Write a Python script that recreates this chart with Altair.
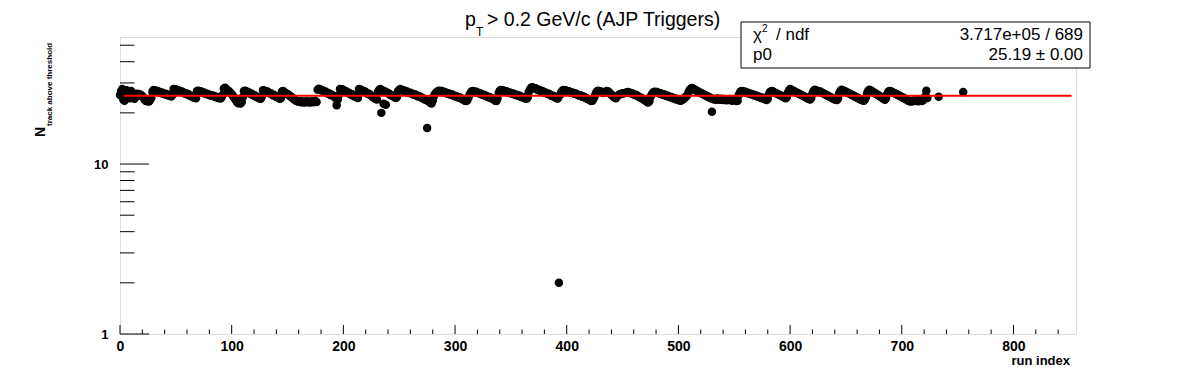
import altair as alt
import pandas as pd

# ---------------- data ----------------
# N_track above threshold per run, consecutive run indices starting at 0
runs_000_047 = [25.5, 26.8, 27.6, 24.0, 23.6, 26.2, 27.2, 25.8, 25.0, 24.4, 26.9, 25.9, 24.8, 24.2,
                25.6, 25.9, 25.4, 25.8, 25.2, 25.5, 25.0, 24.6,
                24.0, 23.6, 23.4, 23.7, 23.3, 23.9, 24.5, 26.6,
                27.3, 27.0, 27.1, 26.7, 26.8, 26.4, 26.5, 26.1, 26.3, 25.9, 25.7, 25.9, 25.5, 25.6, 25.2, 25.3, 25.0, 25.6]
runs_048_110 = [27.6, 27.4, 27.5, 27.1, 27.2, 26.8, 26.9, 26.5, 26.6, 26.2, 26.0, 26.1, 25.7, 25.8, 25.4, 25.1, 25.2, 24.8, 24.6, 24.8, 24.4,
                26.9, 27.0, 26.7, 26.8, 26.4, 26.5, 26.1, 26.2, 25.9, 25.7, 25.8, 25.5, 25.3, 25.4, 25.1, 25.2, 24.9, 24.7, 24.8, 24.5, 24.6, 24.3, 24.7, 25.6,
                27.8, 28.1, 27.7, 27.3, 27.0, 26.6, 26.2, 25.7, 25.2, 24.7, 24.2, 23.6, 23.1, 22.8, 23.0, 22.7, 23.2, 24.8]
runs_111_176 = [26.9, 27.0, 26.7, 26.4, 26.5, 26.1, 25.8, 25.9, 25.5, 25.2, 25.3, 24.9, 24.6, 24.7, 24.3, 24.2, 24.9,
                27.2, 27.0, 26.9, 26.6, 26.7, 26.3, 26.0, 26.1, 25.7, 25.4, 25.5, 25.1, 24.8, 24.9, 24.5, 24.2, 24.4,
                26.7, 26.9, 26.5, 26.2, 26.0, 25.7, 25.5, 25.2, 24.9, 24.6, 24.3, 24.0, 23.8, 23.5, 23.4,
                23.3, 23.2, 23.4, 23.1, 23.3, 23.0, 23.2, 23.4, 23.1, 23.3, 23.0, 23.2, 23.4, 23.1, 23.3, 23.5, 23.2]
runs_177_248 = [27.4, 27.7, 27.5, 27.2, 27.3, 26.9, 26.6, 26.7, 26.3, 26.0, 26.1, 25.7, 25.4, 25.5, 25.1, 24.8, 24.5,
                22.2, 24.0, 25.5,
                27.6, 27.4, 27.5, 27.1, 26.8, 26.9, 26.5, 26.2, 26.3, 25.9, 25.6, 25.7, 25.3, 25.0, 25.1, 24.7, 24.5,
                27.6, 27.3, 27.4, 27.0, 26.7, 26.8, 26.4, 26.1, 25.8, 25.9, 25.5, 25.2, 24.9, 24.6, 24.4, 24.2, 24.0,
                26.5, 27.3, 27.6, 20.0, 27.2, 22.6, 26.8, 22.3, 26.4, 26.1, 25.9, 25.6, 25.3, 25.4, 25.0, 24.7, 24.5, 24.8]
runs_249_338 = [26.8, 27.3, 27.6, 27.4, 27.1, 27.2, 26.9, 26.6, 26.7, 26.4, 26.2, 26.3, 26.0, 25.8, 25.6, 25.7,
                25.4, 25.2, 25.0, 25.1, 24.8, 24.6, 24.4, 24.2, 24.0, 23.8, 16.3, 23.5, 23.2, 22.9, 22.7, 23.6,
                25.0, 25.8, 26.3, 26.6, 26.9, 27.0, 26.8, 26.9, 26.6, 26.4, 26.5, 26.2, 26.0, 26.1, 25.8, 25.6,
                25.7, 25.4, 25.2, 25.0, 25.1, 24.8, 24.6, 24.7, 24.4, 24.2, 24.0, 23.8, 23.6, 23.5, 23.7, 24.6,
                25.6, 26.3, 26.8, 26.9, 26.7, 26.5, 26.6, 26.3, 26.1, 26.2, 25.9, 25.7, 25.5, 25.6, 25.3, 25.1,
                24.9, 24.7, 24.8, 24.5, 24.3, 24.1, 23.9, 23.6, 23.5, 24.3]
runs_339_425 = [26.2, 27.0, 27.3, 27.1, 27.2, 26.9, 26.7, 26.8, 26.5, 26.3, 26.4, 26.1, 25.9, 26.0, 25.7, 25.5,
                25.6, 25.3, 25.1, 25.2, 24.9, 24.7, 24.8, 24.5, 24.3, 24.2, 24.6,
                26.5, 27.4, 28.0, 28.3, 28.1, 27.8, 27.9, 27.6, 27.3, 27.4, 27.1, 26.8, 26.9, 26.6, 26.3, 26.4,
                26.1, 25.8, 25.9, 25.6, 25.3, 25.1, 25.2, 24.8, 24.6, 24.4, 24.3, 2.0,
                25.5, 26.4, 27.0, 27.3, 27.1, 27.2, 26.9, 26.7, 26.8, 26.5, 26.3, 26.4, 26.1, 25.9, 26.0, 25.7,
                25.5, 25.3, 25.4, 25.1, 24.9, 25.0, 24.7, 24.5, 24.3, 24.1, 23.9, 23.7, 23.5, 23.6, 24.2, 25.0]
runs_426_534 = [26.0, 26.7, 27.0, 26.8, 26.6, 26.7, 26.4, 26.2, 26.3, 26.6, 26.9, 26.7, 26.4, 26.0, 25.6, 25.2, 24.8, 24.6, 24.4,
                25.0, 25.3, 25.6, 25.8, 25.9, 26.0, 26.1, 26.2, 26.3, 26.4, 26.5, 26.3, 26.1, 26.2, 25.9,
                25.7, 25.5, 25.6, 25.3, 25.0, 24.8, 24.6, 24.4, 24.2, 24.0, 23.7, 23.5, 23.2, 23.0, 23.4,
                24.8, 25.6, 26.2, 26.5, 26.6, 26.4, 26.5, 26.2, 26.0, 26.1, 25.8, 25.6, 25.7, 25.4, 25.2, 25.3,
                25.0, 24.8, 24.9, 24.6, 24.4, 24.5, 24.2, 24.0, 24.1, 23.8, 23.7, 23.6, 23.8, 24.0, 24.3, 24.6, 25.0,
                25.5, 26.4, 27.2, 27.7, 28.0, 27.8, 27.5, 27.3, 27.1, 26.8, 26.6, 26.4, 26.2, 26.0, 25.8, 25.6,
                25.4, 25.2, 25.0, 24.8, 24.6, 24.4, 20.3, 24.2, 24.0, 24.1, 23.9]
runs_535_643 = [24.3, 24.1, 23.9, 24.2, 24.0, 23.8, 24.1, 23.9, 23.7, 24.0, 23.8, 24.1, 23.9, 23.6, 23.8, 24.0, 23.7, 23.5, 23.6,
                25.4, 26.3, 26.8, 26.9, 26.7, 26.5, 26.6, 26.3, 26.1, 26.2, 25.9, 25.7, 25.8, 25.5, 25.3, 25.4,
                25.1, 24.9, 25.0, 24.7, 24.5, 24.6, 24.3, 24.1, 24.0, 23.8, 24.2,
                25.8, 26.5, 26.8, 26.9, 26.6, 26.4, 26.2, 26.0, 25.8, 25.6, 25.4, 25.2, 25.0, 24.8, 24.6, 24.4, 24.7,
                26.3, 27.1, 27.6, 27.4, 27.2, 26.9, 26.7, 26.5, 26.3, 26.1, 25.9, 25.7, 25.5, 25.3, 25.1, 24.9,
                24.7, 24.5, 24.3, 24.1, 24.0, 24.5,
                26.0, 26.9, 27.4, 27.2, 27.0, 26.8, 26.6, 26.7, 26.4, 26.2, 26.0, 25.8, 25.6, 25.4, 25.2, 25.0,
                24.8, 24.6, 24.4, 24.2, 24.0, 23.9, 23.8, 24.3]
runs_644_723 = [26.1, 26.9, 27.4, 27.2, 27.0, 26.8, 26.6, 26.4, 26.2, 26.0, 25.8, 25.6, 25.4, 25.2, 25.0, 24.8,
                24.6, 24.4, 24.2, 24.0, 23.8, 23.7, 23.6, 24.0, 24.8,
                26.2, 27.0, 27.4, 27.1, 26.9, 26.6, 26.4, 26.1, 25.9, 25.6, 25.4, 25.1, 24.9, 24.6, 24.4, 24.1, 23.9, 24.5,
                25.8, 26.6, 26.9, 26.8, 26.6, 26.4, 26.2, 26.0, 25.8, 25.6, 25.4, 25.2, 25.0, 24.8, 24.6, 24.4,
                24.2, 24.0, 23.8, 23.6, 23.4, 23.3, 23.5, 23.4,
                23.6, 23.8, 23.5, 23.7, 23.4, 23.6, 23.8, 23.5, 23.7, 24.2, 25.0, 27.0, 24.5]
late_run_index = [733, 755]
late_run_values = [24.9, 26.5]

fit_p0 = 25.19
fit_range = [3.5, 852]
x_domain = [0, 856]
y_domain = [1, 55.9]

x_major_ticks = [0, 100, 200, 300, 400, 500, 600, 700, 800]
x_minor_ticks = [20, 40, 60, 80, 120, 140, 160, 180, 220, 240, 260, 280, 320, 340, 360, 380,
                 420, 440, 460, 480, 520, 540, 560, 580, 620, 640, 660, 680, 720, 740, 760, 780,
                 820, 840]
y_major_ticks = [1, 10]
y_minor_ticks = [2, 3, 4, 5, 6, 7, 8, 9, 20, 30, 40, 50]

title_main = "> 0.2 GeV/c (AJP Triggers)"
stat_chi_value = "3.717e+05 / 689"
stat_p0_value = "25.19 \u00b1 0.00"

# ---------------- build tables ----------------
all_vals = (runs_000_047 + runs_048_110 + runs_111_176 + runs_177_248 + runs_249_338 +
            runs_339_425 + runs_426_534 + runs_535_643 + runs_644_723)
pts = pd.DataFrame({"run": list(range(len(all_vals))) + late_run_index,
                    "n": all_vals + late_run_values})
fit = pd.DataFrame({"x0": [fit_range[0]], "x1": [fit_range[1]], "p0": [fit_p0]})
one = pd.DataFrame({"a": [0]})

W, H = 956, 297
FONT = "Liberation Sans, Arial, Helvetica, sans-serif"
NARROW = "Liberation Sans Narrow, Liberation Sans, Arial, sans-serif"

xs = alt.Scale(domain=x_domain, nice=False, zero=False)
ys = alt.Scale(type="log", domain=y_domain, nice=False)

x_axis = alt.Axis(values=x_major_ticks, format="d", ticks=False, tickSize=0, domain=False, grid=False,
                  title=None, labelFont=NARROW, labelFontSize=14, labelFontWeight="bold",
                  labelColor="black", labelPadding=5, labelFlush=False)
y_axis = alt.Axis(values=y_major_ticks, format="d", ticks=False, tickSize=0, domain=False, grid=False,
                  title=None, labelFont=FONT, labelFontSize=13, labelFontWeight="bold",
                  labelColor="black", labelPadding=12, labelFlush=False)

points = alt.Chart(pts).mark_circle(size=72, color="black", opacity=1).encode(
    x=alt.X("run:Q", scale=xs, axis=x_axis),
    y=alt.Y("n:Q", scale=ys, axis=y_axis),
)

fit_line = alt.Chart(fit).mark_rule(color="#ff0000", strokeWidth=2).encode(
    x=alt.X("x0:Q", scale=xs), x2="x1:Q", y=alt.Y("p0:Q", scale=ys))

xmaj = alt.Chart(pd.DataFrame({"t": x_major_ticks})).mark_rule(color="black", strokeWidth=1).encode(
    x=alt.X("t:Q", scale=xs), y=alt.value(H), y2=alt.value(H - 9))
xmin = alt.Chart(pd.DataFrame({"t": x_minor_ticks})).mark_rule(color="black", strokeWidth=1).encode(
    x=alt.X("t:Q", scale=xs), y=alt.value(H), y2=alt.value(H - 4.5))
ymaj = alt.Chart(pd.DataFrame({"t": y_major_ticks})).mark_rule(color="black", strokeWidth=1).encode(
    y=alt.Y("t:Q", scale=ys), x=alt.value(0), x2=alt.value(29))
ymin = alt.Chart(pd.DataFrame({"t": y_minor_ticks})).mark_rule(color="black", strokeWidth=1).encode(
    y=alt.Y("t:Q", scale=ys), x=alt.value(0), x2=alt.value(14.5))


def label(txt, x, y, size, weight="normal", align="left", angle=0, font=FONT):
    kw = dict(text=txt, align=align, baseline="alphabetic", fontSize=size, fontWeight=weight,
              font=font, color="black")
    if angle:
        kw["angle"] = angle
    return alt.Chart(one).mark_text(**kw).encode(x=alt.value(x), y=alt.value(y))


stats_box = alt.Chart(one).mark_rect(fill="white", stroke="black", strokeWidth=1).encode(
    x=alt.value(621), x2=alt.value(970), y=alt.value(-15), y2=alt.value(31))

layers = [
    xmin, xmaj, ymin, ymaj, points, fit_line, stats_box,
    # title
    label("p", 345, -11, 19.5),
    label("T", 356, -1, 12),
    label(title_main, 367, -11, 19.5),
    # stats
    label("\u03c7", 633, 3, 17),
    label("2", 642, -5, 10),
    label("/ ndf", 656, 3, 17),
    label(stat_chi_value, 963, 3, 17, align="right"),
    label("p0", 633, 23, 17),
    label(stat_p0_value, 963, 23, 17, align="right"),
    # axis titles
    label("run index", 950, 328, 13, weight="bold", align="right", font=NARROW),
    label("N", -75, 100, 14, weight="bold", angle=270),
    label("track above threshold", -68, 89, 8, weight="bold", angle=270),
]

chart = alt.layer(*layers).properties(
    width=W, height=H,
    autosize=alt.AutoSizeParams(type="none"),
    padding={"left": 112, "top": 29, "right": 112, "bottom": 36},
).configure_view(stroke="black", strokeWidth=1, fill="white").configure(background="white")

chart.save("out.html", embed_options={"renderer": "svg", "actions": False})
